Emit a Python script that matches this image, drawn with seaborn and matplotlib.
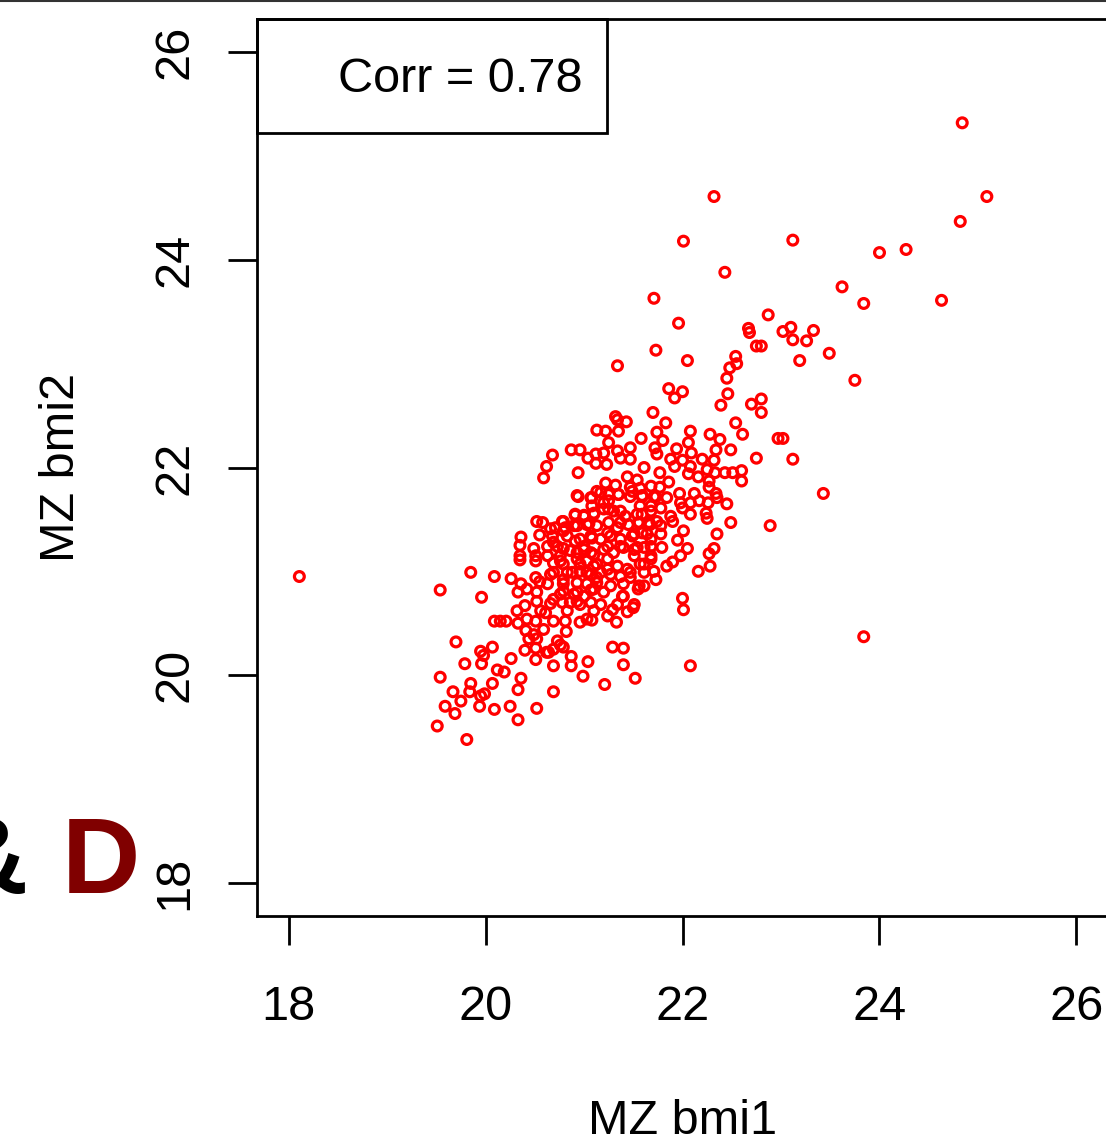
import numpy as np
import pandas as pd
import seaborn as sns
import matplotlib.pyplot as plt
from matplotlib.patches import Rectangle
from matplotlib.lines import Line2D

# MZ twin pairs (bmi of twin 1 / twin 2)
bmi1 = [
    # outer / sparse points
    18.11, 24.84, 25.09, 24.82, 24.27, 24.00, 23.12, 23.62, 23.84, 24.63,
    23.10, 23.02, 23.33, 23.12, 23.26, 23.49, 23.19, 23.75, 22.32, 22.01,
    22.43, 21.71, 21.96, 22.87, 22.67, 22.68, 22.75, 22.80, 21.73, 22.05,
    21.34, 22.54, 22.55, 22.48, 22.45, 21.86, 22.00, 21.92, 22.46, 22.80,
    23.12, 23.43, 23.84, 23.02,
    # upper right of the cloud
    22.39, 22.70, 22.80, 21.70, 21.32, 21.34, 21.43, 21.83, 22.54, 21.22,
    21.35, 21.74, 22.08, 21.58, 22.28, 22.38, 22.61, 21.80, 21.25, 22.06,
    21.47, 21.72, 21.94, 22.34, 22.49, 22.97, 21.34, 21.20, 21.74, 22.09,
    21.37, 21.47, 21.88, 22.00, 22.20, 22.32, 22.75, 21.23, 21.92, 22.08,
    21.61, 22.25, 22.43, 22.51, 22.60, 22.33, 22.06, 22.16, 21.77, 21.44,
    21.54, 22.60, 22.27, 21.22, 21.32, 21.47, 21.68, 21.86, 21.77, 21.57,
    22.27, 21.97, 22.12, 22.34, 22.35, 21.25, 21.35, 21.59, 21.73, 21.84,
    21.49, 21.98, 22.08, 22.17, 22.26, 22.45, 21.20, 21.68, 21.57, 22.00,
    21.78, 22.08, 22.24, 21.88, 21.37, 21.59, 21.25, 22.25, 22.49, 22.89,
    21.90, 21.67, 21.78, 21.55, 21.37, 22.01, 22.35, 21.78, 21.64, 21.51,
    21.24, 21.95, 21.68, 22.05, 22.32, 22.27, 21.79, 21.54, 21.37, 21.24,
    21.98, 21.68, 21.51,
    # upper left of the cloud
    21.13, 20.68, 20.87, 20.96, 21.04, 21.12, 21.12, 20.62, 20.59, 20.94,
    20.94, 21.08, 21.13, 21.08, 20.52, 20.58, 20.66, 20.78, 20.81, 20.91,
    21.00, 21.10, 20.36, 20.35, 20.55, 20.68, 20.79, 20.93, 21.05, 20.49,
    20.63, 20.69, 20.79, 20.91, 21.00, 21.08, 20.35, 20.51, 20.63, 20.76,
    20.93, 21.07,
    # lower left
    20.35, 20.51, 20.69, 20.79, 20.96, 21.10, 19.85, 20.09, 20.26, 20.36,
    20.51, 20.55, 20.66, 20.63, 20.79, 20.88, 21.03, 21.13, 19.54, 19.96,
    20.33, 20.42, 20.52, 20.79, 20.93, 21.07, 20.32, 20.40, 20.52, 20.56,
    20.66, 20.78, 20.83, 20.93, 21.07, 21.10, 21.03, 20.96, 21.08, 20.09,
    20.15, 20.21, 20.33, 20.42, 20.51, 20.61, 20.69, 20.81, 20.41, 20.49,
    20.59, 20.82, 20.44, 20.52, 20.73, 20.76, 20.79, 20.69, 20.62, 19.70,
    20.07, 19.95, 19.98, 20.40, 20.51, 20.26, 20.51, 20.64, 19.96, 19.79,
    20.87, 20.87, 20.69, 21.04, 20.99, 20.12, 20.19, 20.36, 19.54, 19.85,
    20.07, 20.33, 20.69, 19.67, 19.84, 19.75, 19.95, 19.99, 19.59, 19.69,
    19.94, 20.09, 20.25, 20.52, 20.33, 19.51, 19.81,
    # lower right
    21.24, 21.34, 21.37, 21.47, 21.61, 21.71, 21.84, 21.90, 21.61, 21.73,
    21.40, 21.55, 21.61, 21.20, 22.16, 22.28, 22.00, 22.01, 21.40, 21.34,
    21.29, 21.24, 21.33, 21.44, 21.50, 21.29, 21.40, 21.40, 21.52, 22.08,
    21.21,
    # dense core
    20.93, 21.07, 21.17, 21.25, 21.35, 21.47, 21.59, 21.71, 21.20, 21.30,
    20.91, 21.00, 21.10, 21.42, 21.54, 21.68, 20.79, 20.71, 20.90, 21.03,
    21.13, 21.25, 21.34, 21.45, 21.56, 21.66, 21.74, 20.83, 20.96, 21.07,
    21.17, 21.27, 21.37, 21.49, 21.59, 21.68, 20.73, 20.86, 21.00, 21.10,
    21.20, 21.30, 21.40, 21.51, 21.61, 21.68, 20.76, 20.93, 21.03, 21.13,
    21.24, 21.44, 21.57, 20.69, 20.83, 20.96, 21.07, 21.17, 21.27, 21.47,
    20.79, 20.93, 21.03, 21.13, 21.27, 21.56, 20.76, 20.90, 21.00, 21.10,
    21.39, 21.51, 20.86, 20.96, 21.17, 20.69,
]

bmi2 = [
    # outer / sparse points
    20.95, 25.32, 24.61, 24.37, 24.10, 24.07, 24.19, 23.74, 23.58, 23.61,
    23.35, 23.31, 23.32, 23.23, 23.22, 23.10, 23.03, 22.84, 24.61, 24.18,
    23.88, 23.63, 23.39, 23.47, 23.34, 23.30, 23.17, 23.17, 23.13, 23.03,
    22.98, 23.07, 23.00, 22.96, 22.86, 22.76, 22.73, 22.67, 22.71, 22.66,
    22.08, 21.75, 20.37, 22.28,
    # upper right of the cloud
    22.60, 22.61, 22.53, 22.53, 22.49, 22.46, 22.44, 22.43, 22.43, 22.35,
    22.35, 22.34, 22.35, 22.28, 22.32, 22.27, 22.32, 22.26, 22.24, 22.24,
    22.19, 22.19, 22.18, 22.17, 22.17, 22.28, 22.16, 22.14, 22.13, 22.14,
    22.09, 22.08, 22.08, 22.07, 22.08, 22.07, 22.09, 22.03, 22.01, 22.01,
    22.00, 21.98, 21.95, 21.95, 21.97, 21.95, 21.94, 21.91, 21.95, 21.91,
    21.88, 21.87, 21.87, 21.85, 21.83, 21.81, 21.82, 21.86, 21.81, 21.80,
    21.81, 21.75, 21.75, 21.75, 21.71, 21.74, 21.74, 21.72, 21.72, 21.71,
    21.77, 21.66, 21.66, 21.68, 21.66, 21.65, 21.66, 21.63, 21.63, 21.61,
    21.61, 21.55, 21.56, 21.53, 21.58, 21.55, 21.60, 21.51, 21.47, 21.44,
    21.48, 21.45, 21.44, 21.47, 21.47, 21.39, 21.36, 21.36, 21.36, 21.36,
    21.37, 21.30, 21.24, 21.22, 21.22, 21.17, 21.23, 21.23, 21.24, 21.24,
    21.15, 21.15, 21.15,
    # upper left of the cloud
    22.36, 22.12, 22.17, 22.17, 22.09, 22.13, 22.04, 22.01, 21.90, 21.95,
    21.72, 21.71, 21.77, 21.63, 21.48, 21.47, 21.41, 21.48, 21.42, 21.54,
    21.54, 21.55, 21.33, 21.25, 21.35, 21.34, 21.39, 21.44, 21.46, 21.22,
    21.24, 21.28, 21.22, 21.29, 21.24, 21.32, 21.15, 21.15, 21.15, 21.15,
    21.18, 21.18,
    # lower left
    21.11, 21.10, 21.08, 21.07, 21.07, 21.05, 20.99, 20.95, 20.93, 20.88,
    20.94, 20.90, 20.97, 20.88, 20.92, 20.99, 20.99, 20.94, 20.82, 20.75,
    20.80, 20.83, 20.80, 20.81, 20.80, 20.82, 20.62, 20.67, 20.71, 20.62,
    20.69, 20.70, 20.62, 20.71, 20.70, 20.62, 20.54, 20.51, 20.53, 20.52,
    20.52, 20.52, 20.50, 20.54, 20.52, 20.60, 20.52, 20.52, 20.43, 20.39,
    20.44, 20.42, 20.35, 20.35, 20.33, 20.29, 20.27, 20.25, 20.22, 20.32,
    20.27, 20.23, 20.19, 20.24, 20.26, 20.16, 20.15, 20.22, 20.11, 20.11,
    20.18, 20.09, 20.09, 20.13, 19.99, 20.05, 20.03, 19.97, 19.98, 19.92,
    19.92, 19.86, 19.84, 19.84, 19.84, 19.75, 19.80, 19.82, 19.70, 19.63,
    19.70, 19.67, 19.70, 19.68, 19.57, 19.51, 19.38,
    # lower right
    21.02, 21.05, 20.95, 20.99, 21.07, 21.00, 21.05, 21.09, 20.99, 20.92,
    20.88, 20.83, 20.86, 20.80, 21.00, 21.05, 20.74, 20.63, 20.76, 20.68,
    20.63, 20.57, 20.51, 20.61, 20.65, 20.27, 20.26, 20.10, 19.97, 20.09,
    19.91,
    # dense core
    21.73, 21.71, 21.76, 21.68, 21.74, 21.72, 21.73, 21.72, 21.60, 21.58,
    21.55, 21.53, 21.56, 21.53, 21.55, 21.58, 21.48, 21.42, 21.44, 21.45,
    21.44, 21.47, 21.42, 21.45, 21.47, 21.47, 21.48, 21.34, 21.31, 21.34,
    21.31, 21.34, 21.31, 21.34, 21.37, 21.31, 21.24, 21.20, 21.21, 21.16,
    21.21, 21.18, 21.23, 21.21, 21.23, 21.12, 21.10, 21.12, 21.10, 21.07,
    21.12, 21.02, 21.07, 20.99, 20.99, 21.00, 20.97, 20.99, 20.97, 20.94,
    20.88, 20.89, 20.88, 20.89, 20.86, 20.86, 20.78, 20.78, 20.76, 20.83,
    20.76, 20.68, 20.70, 20.68, 20.68, 20.73,
]

ticks = [18, 20, 22, 24, 26]
corr_label = "Corr = 0.78"

assert len(bmi1) == len(bmi2)
df = pd.DataFrame({"MZ bmi1": bmi1, "MZ bmi2": bmi2})

sns.set_style("white")
plt.rcParams['font.family'] = ['Liberation Sans', 'DejaVu Sans']
plt.rcParams['text.color'] = 'black'
plt.rcParams['axes.labelcolor'] = 'black'

fig = plt.figure(figsize=(11.06, 11.41), dpi=100)
# axes runs a little past the right edge, like the cropped original
ax = fig.add_axes([257 / 1106, 225 / 1141, 851 / 1106, 897 / 1141])

sns.scatterplot(data=df, x="MZ bmi1", y="MZ bmi2", ax=ax, marker="o", s=50,
                facecolors="none", edgecolor="red", linewidth=2.3, legend=False)

ax.set_xlim(17.68, 26.32)
ax.set_ylim(17.68, 26.32)
ax.set_xticks(ticks)
ax.set_yticks(ticks)
ax.tick_params(axis="both", direction="out", length=21, width=2, color="black",
               labelsize=35, labelcolor="black", bottom=True, left=True)
ax.tick_params(axis="x", pad=29)
ax.tick_params(axis="y", pad=22)
plt.setp(ax.get_yticklabels(), rotation=90, va="center")

for sp in ax.spines.values():
    sp.set_visible(True)
    sp.set_color("black")
    sp.set_linewidth(2)

ax.set_xlabel("MZ bmi1", fontsize=35, labelpad=49, color="black")
ax.set_ylabel("MZ bmi2", fontsize=35, labelpad=49, color="black")

# legend-like box with correlation
ax.add_patch(Rectangle((0, 0.8726), 0.411, 0.1274, transform=ax.transAxes,
                       fill=False, edgecolor="black", linewidth=2, clip_on=False))
ax.text(0.383, 0.932, corr_label, transform=ax.transAxes, ha="right", va="center",
        fontsize=35, color="black")

# leftover panel label from the neighbouring figure
fig.text(28 / 1106, (1141 - 893) / 1141, "&", ha="right", va="baseline",
         fontsize=78, fontweight="bold", color="black")
fig.text(62 / 1106, (1141 - 893) / 1141, "D", ha="left", va="baseline",
         fontsize=78, fontweight="bold", color="#800000")

fig.add_artist(Line2D([0, 1], [0.999, 0.999], transform=fig.transFigure,
                      color="#333333", linewidth=1.5))

fig.savefig("out.png", dpi=100)
